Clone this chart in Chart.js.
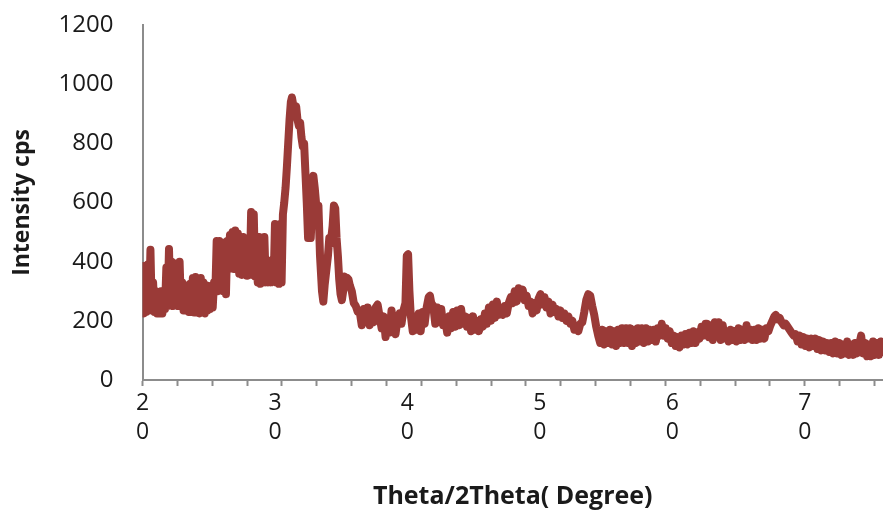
<!DOCTYPE html>
<html>
<head>
<meta charset="utf-8">
<script src="https://cdn.jsdelivr.net/npm/chart.js@4"></script>
<style>
  html, body { margin: 0; padding: 0; background: #fff; }
</style>
</head>
<body>
<canvas id="xrd-chart" width="883" height="516"></canvas>
<script>
// 2theta positions (degree) and intensity (cps)
const theta = [
    20.0, 20.1, 20.2, 20.3, 20.4, 20.5, 20.6, 20.7, 20.8, 20.9,
    21.0, 21.1, 21.2, 21.3, 21.4, 21.5, 21.6, 21.7, 21.8, 21.9,
    22.0, 22.1, 22.2, 22.3, 22.4, 22.5, 22.6, 22.7, 22.8, 22.9,
    23.0, 23.1, 23.2, 23.3, 23.4, 23.5, 23.6, 23.7, 23.8, 23.9,
    24.0, 24.1, 24.2, 24.3, 24.4, 24.5, 24.6, 24.7, 24.8, 24.9,
    25.0, 25.1, 25.2, 25.3, 25.4, 25.5, 25.6, 25.7, 25.8, 25.9,
    26.0, 26.1, 26.2, 26.3, 26.4, 26.5, 26.6, 26.7, 26.8, 26.9,
    27.0, 27.1, 27.2, 27.3, 27.4, 27.5, 27.6, 27.7, 27.8, 27.9,
    28.0, 28.1, 28.2, 28.3, 28.4, 28.5, 28.6, 28.7, 28.8, 28.9,
    29.0, 29.1, 29.2, 29.3, 29.4, 29.5, 29.6, 29.7, 29.8, 29.9,
    30.0, 30.1, 30.2, 30.3, 30.4, 30.5,
    30.60, 30.70, 30.80, 30.90, 31.00, 31.10, 31.20,
    31.28, 31.38, 31.50, 31.60, 31.70, 31.80, 31.90, 32.00, 32.10, 32.20,
    32.30, 32.40, 32.50, 32.60, 32.70, 32.80, 32.90, 33.00, 33.10, 33.20,
    33.28, 33.40, 33.55, 33.65, 33.75, 33.90, 34.00, 34.10, 34.20, 34.35,
    34.45, 34.55, 34.65, 34.75, 34.85, 34.95, 35.05, 35.15, 35.25, 35.35,
    35.45, 35.55, 35.65, 35.80, 35.95, 36.10, 36.25, 36.40, 36.55, 36.70,
    36.85, 37.00, 37.15, 37.30, 37.45, 37.60, 37.75, 37.90, 38.05, 38.20,
    38.35, 38.50, 38.65, 38.80, 38.95, 39.10, 39.25, 39.40, 39.55, 39.70,
    39.85, 39.95, 40.05, 40.15, 40.25, 40.40, 40.55, 40.70, 40.85, 41.00,
    41.15, 41.30, 41.45, 41.60, 41.70, 41.80, 41.95, 42.10, 42.25, 42.40,
    42.55, 42.70, 42.85, 43.00, 43.15, 43.30, 43.45, 43.60, 43.75, 43.90,
    44.05, 44.20, 44.35, 44.50, 44.65, 44.80, 44.95, 45.10, 45.25, 45.40,
    45.55, 45.70, 45.85, 46.00, 46.15, 46.30, 46.45, 46.60, 46.75, 46.90,
    47.05, 47.20, 47.35, 47.50, 47.65, 47.80, 47.95, 48.10, 48.25, 48.40,
    48.55, 48.70, 48.85, 49.00, 49.15, 49.30, 49.45, 49.60, 49.75, 49.90,
    50.05, 50.20, 50.35, 50.50, 50.65, 50.80, 50.95, 51.10, 51.25, 51.40,
    51.55, 51.70, 51.85, 52.00, 52.15, 52.30, 52.45, 52.60, 52.75, 52.90,
    53.05, 53.20, 53.35, 53.50, 53.65, 53.80, 53.95, 54.10, 54.25, 54.40,
    54.55, 54.70, 54.85, 55.00, 55.15, 55.30, 55.45, 55.60, 55.75, 55.90,
    56.05, 56.20, 56.35, 56.50, 56.65, 56.80, 56.95, 57.10, 57.25, 57.40,
    57.55, 57.70, 57.85, 58.00, 58.15, 58.30, 58.45, 58.60, 58.75, 58.90,
    59.05, 59.20, 59.35, 59.50, 59.65, 59.80, 59.95, 60.10, 60.25, 60.40,
    60.55, 60.70, 60.85, 61.00, 61.15, 61.30, 61.45, 61.60, 61.75, 61.90,
    62.05, 62.20, 62.35, 62.50, 62.60, 62.75, 62.90, 63.05, 63.20, 63.35,
    63.50, 63.65, 63.80, 63.95, 64.10, 64.25, 64.40, 64.55, 64.70, 64.85,
    65.00, 65.15, 65.30, 65.45, 65.60, 65.75, 65.90, 66.05, 66.20, 66.35,
    66.50, 66.65, 66.80, 66.95, 67.10, 67.25, 67.40, 67.55, 67.70, 67.80,
    67.95, 68.10, 68.25, 68.40, 68.55, 68.70, 68.85, 69.00, 69.15, 69.30,
    69.45, 69.60, 69.75, 69.90, 70.05, 70.20, 70.35, 70.50, 70.65, 70.80,
    70.95, 71.10, 71.25, 71.40, 71.55, 71.70, 71.85, 72.00, 72.15, 72.30,
    72.45, 72.60, 72.75, 72.90, 73.05, 73.20, 73.35, 73.50, 73.65, 73.80,
    73.95, 74.10, 74.25, 74.40, 74.55, 74.70, 74.85, 75.00, 75.15, 75.30,
    75.45, 75.60, 75.75, 75.90
];

const intensity = [
    385, 225, 380, 230, 390, 240, 440, 235, 330, 230,
    300, 225, 295, 225, 300, 225, 290, 240, 380, 250,
    443, 255, 400, 250, 330, 255, 395, 250, 400, 250,
    330, 235, 320, 235, 310, 230, 325, 230, 345, 228,
    348, 228, 340, 225, 345, 228, 330, 225, 320, 235,
    318, 240, 310, 245, 330, 300, 470, 300, 470, 310,
    465, 300, 460, 290, 470, 375, 490, 380, 500, 375,
    505, 380, 495, 360, 480, 355, 483, 360, 475, 352,
    470, 360, 568, 355, 560, 350, 480, 330, 483, 325,
    475, 330, 483, 330, 400, 330, 403, 330, 400, 335,
    527, 330, 520, 325, 527, 330,
    560, 600, 650, 720, 800, 880, 940,
    955, 930, 910, 925, 880, 860, 870, 820, 790, 800,
    700, 600, 480, 520, 480, 580, 690, 650, 600, 580,
    590, 420, 300, 265, 320, 380, 420, 480, 460, 520,
    590, 580, 480, 420, 340, 290, 270, 300, 350, 330,
    345, 340, 320, 300, 260, 250, 230, 230, 185, 240,
    195, 245, 185, 230, 195, 245, 255, 215, 175, 215,
    145, 205, 160, 235, 180, 155, 205, 225, 190, 235,
    260, 420, 425, 300, 220, 165, 215, 170, 225, 165,
    230, 190, 245, 280, 285, 260, 250, 190, 245, 195,
    240, 185, 205, 160, 215, 175, 230, 180, 235, 185,
    240, 190, 215, 180, 210, 165, 215, 170, 200, 165,
    205, 180, 225, 190, 245, 200, 255, 210, 265, 220,
    240, 220, 250, 225, 260, 280, 260, 300, 265, 310,
    290, 305, 270, 285, 250, 265, 225, 260, 235, 275,
    290, 255, 280, 245, 265, 225, 255, 230, 240, 215,
    235, 210, 225, 200, 215, 190, 200, 170, 180, 165,
    190, 195, 230, 270, 290, 285, 250, 220, 180, 150,
    125, 170, 120, 165, 125, 170, 120, 165, 115, 170,
    125, 175, 125, 175, 125, 175, 115, 170, 125, 175,
    130, 175, 125, 175, 130, 170, 135, 170, 130, 175,
    150, 190, 150, 175, 140, 165, 125, 150, 115, 145,
    110, 150, 120, 155, 120, 160, 125, 165, 125, 160,
    140, 180, 150, 190, 190, 145, 185, 135, 195, 150,
    195, 135, 185, 140, 165, 130, 170, 135, 165, 130,
    175, 135, 170, 135, 185, 140, 170, 135, 170, 135,
    175, 140, 170, 140, 175, 165, 185, 200, 215, 220,
    205, 210, 195, 185, 190, 180, 170, 160, 150, 155,
    130, 150, 120, 145, 115, 140, 110, 140, 115, 140,
    105, 135, 100, 130, 100, 125, 95, 125, 90, 130,
    90, 125, 85, 120, 90, 130, 85, 120, 85, 125,
    90, 120, 150, 90, 125, 80, 120, 80, 130, 85,
    125, 85, 130, 95
];

const yTicks = [0, 200, 400, 600, 800, 1000, 1200];
const xLabelValues = [20, 30, 40, 50, 60, 70];
const xMin = 20;
const xMax = 75.9;
const markStep = 50 / 19;   // tick marks on the category axis

const points = theta.map((t, i) => ({ x: t, y: intensity[i] }));

function buildXTicks() {
    const ticks = [];
    for (let v = xMin; v <= xMax + 1e-6; v += markStep) {
        ticks.push({ value: v, mark: true, text: null });
    }
    xLabelValues.forEach(lv => {
        const near = ticks.find(t => Math.abs(t.value - lv) < 0.1);
        const text = String(lv).split('');
        if (near) {
            near.text = text;
        } else {
            ticks.push({ value: lv, mark: false, text: text });
        }
    });
    ticks.sort((a, b) => a.value - b.value);
    return ticks;
}

const ctx = document.getElementById('xrd-chart').getContext('2d');
const axisGray = '#8c8c8c';
const textColor = '#1a1a1a';

new Chart(ctx, {
    type: 'line',
    data: {
        datasets: [{
            label: 'Intensity',
            data: points,
            borderColor: '#9a3a37',
            borderWidth: 8,
            borderJoinStyle: 'round',
            borderCapStyle: 'round',
            pointRadius: 0,
            fill: false,
            tension: 0
        }]
    },
    options: {
        responsive: false,
        animation: false,
        devicePixelRatio: 1,
        layout: { padding: { top: 25, right: 0, left: 0, bottom: 0 } },
        plugins: {
            legend: { display: false },
            tooltip: { enabled: false }
        },
        scales: {
            x: {
                type: 'linear',
                min: xMin,
                max: xMax,
                afterBuildTicks: (scale) => { scale.ticks = buildXTicks(); },
                afterFit: (scale) => {
                    scale.height = 136;
                    scale.paddingLeft = 0;
                    scale.paddingRight = 0;
                },
                border: { display: true, color: axisGray, width: 2 },
                grid: {
                    drawOnChartArea: false,
                    drawTicks: true,
                    tickLength: 6,
                    tickWidth: 2,
                    tickColor: (c) => (c.tick && c.tick.mark) ? axisGray : 'rgba(0,0,0,0)'
                },
                ticks: {
                    autoSkip: false,
                    maxRotation: 0,
                    padding: 3,
                    color: textColor,
                    font: { family: 'Open Sans', size: 23, lineHeight: 1.25 },
                    callback: function (value, index) {
                        const t = this.ticks[index];
                        return (t && t.text) ? t.text : '';
                    }
                },
                title: {
                    display: true,
                    text: 'Theta/2Theta( Degree)',
                    color: textColor,
                    font: { family: 'Open Sans', size: 25, weight: 'bold' },
                    padding: { top: 0, bottom: 4 }
                }
            },
            y: {
                min: 0,
                max: 1200,
                afterBuildTicks: (scale) => { scale.ticks = yTicks.map(v => ({ value: v })); },
                afterFit: (scale) => {
                    scale.width = 142.5;
                    scale.paddingTop = 0;
                    scale.paddingBottom = 0;
                },
                border: { display: true, color: axisGray, width: 2 },
                grid: { display: false },
                ticks: {
                    padding: 21,
                    color: textColor,
                    font: { family: 'Open Sans', size: 24 },
                    callback: (v) => String(v)
                },
                title: {
                    display: true,
                    text: 'Intensity cps',
                    color: textColor,
                    font: { family: 'Open Sans', size: 23, weight: 'bold' },
                    padding: { top: 9, bottom: 0 }
                }
            }
        }
    }
});
</script>
</body>
</html>
